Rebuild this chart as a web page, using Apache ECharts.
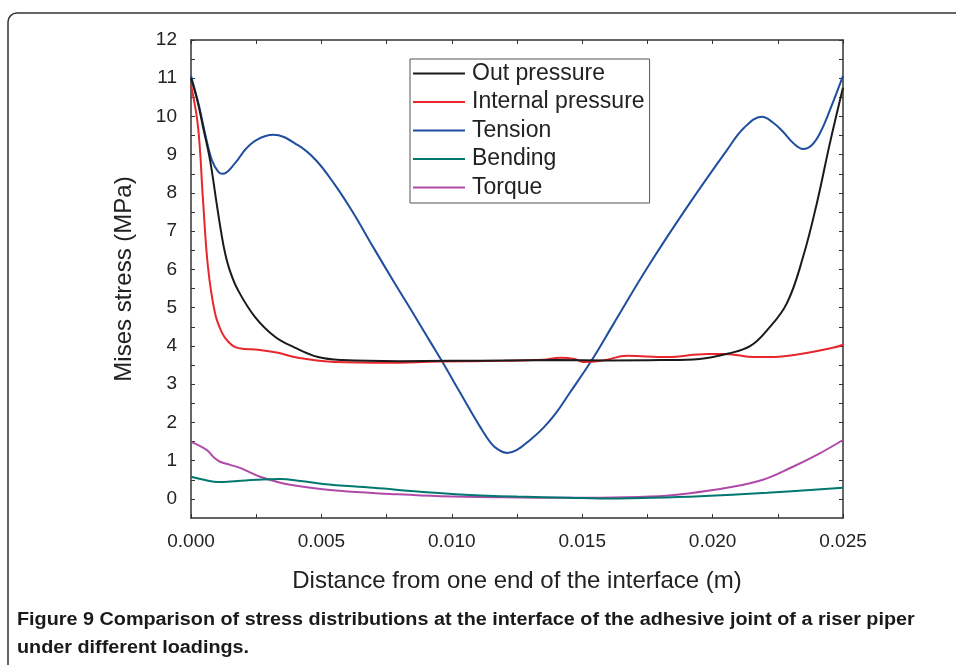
<!DOCTYPE html>
<html><head><meta charset="utf-8">
<script src="https://cdn.jsdelivr.net/npm/echarts@6/dist/echarts.min.js"></script>
<style>html,body{margin:0;padding:0;background:#fff}#c{width:956px;height:665px}</style>
</head><body><div id="c"></div>
<script>
const seriesNames = ['Out pressure', 'Internal pressure', 'Tension', 'Bending', 'Torque'];
const seriesColors = ['#1a1a1a', '#e8262b', '#1f4e9e', '#00786f', '#b04aa8'];

const outPressure = [[0,11.0],[0.00025,10.4],[0.00046,9.73],[0.00073,8.86],[0.00098,7.74],[0.00115,7.0],[0.0013,6.45],[0.0015,5.95],[0.0018,5.46],[0.00245,4.76],[0.00322,4.24],[0.004,3.95],[0.00487,3.71],[0.0058,3.63],[0.008,3.6],[0.010,3.61],[0.012,3.62],[0.014,3.63],[0.016,3.62],[0.018,3.63],[0.0195,3.66],[0.0206,3.8],[0.02145,4.0],[0.0221,4.42],[0.02285,5.12],[0.02347,6.33],[0.024,7.74],[0.0245,9.31],[0.025,10.75]];
const internalPressure = [[0,10.82],[0.00027,9.73],[0.00046,7.82],[0.00065,6.07],[0.00092,4.86],[0.00119,4.34],[0.00143,4.11],[0.00169,3.97],[0.00207,3.92],[0.00257,3.9],[0.00334,3.82],[0.0041,3.69],[0.00552,3.58],[0.0075,3.56],[0.0095,3.59],[0.012,3.61],[0.0135,3.64],[0.01415,3.69],[0.0147,3.66],[0.01503,3.58],[0.0158,3.62],[0.01672,3.74],[0.01825,3.71],[0.0198,3.79],[0.0205,3.79],[0.0216,3.71],[0.0222,3.71],[0.0233,3.78],[0.0246,3.95],[0.025,4.03]];
const tension = [[0,11.06],[0.0003,10.3],[0.00054,9.55],[0.0008,8.86],[0.00105,8.55],[0.00121,8.5],[0.00169,8.78],[0.0021,9.15],[0.00252,9.39],[0.00315,9.52],[0.0041,9.25],[0.0048,8.85],[0.00552,8.21],[0.0062,7.5],[0.00698,6.59],[0.0078,5.65],[0.00851,4.86],[0.0092,4.08],[0.00966,3.56],[0.0103,2.8],[0.01108,1.89],[0.0115,1.46],[0.0118,1.28],[0.01212,1.2],[0.0125,1.28],[0.013,1.54],[0.0135,1.85],[0.014,2.25],[0.0145,2.75],[0.01537,3.63],[0.01618,4.55],[0.01752,6.07],[0.01902,7.63],[0.02055,9.12],[0.0212,9.7],[0.02189,9.99],[0.0223,9.85],[0.0227,9.6],[0.0231,9.3],[0.02347,9.15],[0.0238,9.25],[0.02412,9.57],[0.0245,10.17],[0.025,11.06]];
const bending = [[0,0.58],[0.0005,0.5],[0.00104,0.44],[0.0018,0.47],[0.00252,0.5],[0.0034,0.52],[0.0042,0.47],[0.00506,0.39],[0.007,0.29],[0.0089,0.18],[0.0105,0.11],[0.0125,0.06],[0.0145,0.03],[0.01568,0.01],[0.0176,0.03],[0.01952,0.07],[0.02209,0.16],[0.025,0.29]];
const torque = [[0,1.49],[0.0006,1.28],[0.0009,1.07],[0.00111,0.97],[0.0015,0.89],[0.00188,0.81],[0.00265,0.58],[0.0038,0.37],[0.00571,0.21],[0.00763,0.13],[0.00955,0.07],[0.012,0.04],[0.0145,0.03],[0.01568,0.03],[0.0176,0.06],[0.01913,0.15],[0.02055,0.29],[0.02193,0.5],[0.02308,0.84],[0.024,1.15],[0.025,1.54]];

const xTickLabels = [0, 0.005, 0.01, 0.015, 0.02, 0.025];
const yTickLabels = [0,1,2,3,4,5,6,7,8,9,10,11,12];
const yMinorTicks = [0,0.5,1,1.5,2,2.5,3,3.5,4,4.5,5,5.5,6,6.5,7,7.5,8,8.5,9,9.5,10,10.5,11,11.5,12];

const xName = 'Distance from one end of the interface (m)';
const yName = 'Mises stress (MPa)';
const captionBold = 'Figure 9';
const captionLine1 = ' Comparison of stress distributions at the interface of the adhesive joint of a riser piper';
const captionLine2 = 'under different loadings.';

const allData = [outPressure, internalPressure, tension, bending, torque];
const FONT = '"Liberation Sans", Arial, Helvetica, sans-serif';
const axisColor = '#333';

const chart = echarts.init(document.getElementById('c'), null, {renderer: 'canvas'});

const xBase = {
  type: 'value', min: 0, max: 0.025, interval: 0.0025,
  axisLine: {show: true, onZero: false, lineStyle: {color: axisColor, width: 1.5}},
  axisTick: {show: true, inside: true, length: 4, lineStyle: {color: axisColor, width: 1}},
  splitLine: {show: false}
};
const yBase = {
  type: 'value', min: -0.5, max: 12,
  axisLine: {show: true, onZero: false, lineStyle: {color: axisColor, width: 1.5}},
  axisTick: {show: true, inside: true, length: 4, customValues: yMinorTicks, lineStyle: {color: axisColor, width: 1}},
  splitLine: {show: false}
};

chart.setOption({
  animation: false,
  backgroundColor: '#fff',
  textStyle: {fontFamily: FONT},
  grid: {left: 191, right: 113, top: 40, bottom: 147, containLabel: false},
  xAxis: [
    Object.assign({}, xBase, {
      position: 'bottom',
      name: xName, nameLocation: 'middle', nameGap: 51,
      nameTextStyle: {fontSize: 24, color: '#222', fontFamily: FONT},
      axisLabel: {show: true, customValues: xTickLabels, margin: 14, fontSize: 19, color: '#222', fontFamily: FONT,
        formatter: v => v.toFixed(3)}
    }),
    Object.assign({}, xBase, {position: 'top', axisLabel: {show: false}})
  ],
  yAxis: [
    Object.assign({}, yBase, {
      position: 'left',
      name: yName, nameLocation: 'middle', nameGap: 55, nameRotate: 90,
      nameTextStyle: {fontSize: 24, color: '#222', fontFamily: FONT},
      axisLabel: {show: true, customValues: yTickLabels, margin: 14, fontSize: 19, color: '#222', fontFamily: FONT}
    }),
    Object.assign({}, yBase, {position: 'right', axisLabel: {show: false}})
  ],
  legend: {
    orient: 'vertical', left: 410, top: 59,
    data: seriesNames.map(n => ({name: n, icon: 'rect'})),
    itemWidth: 52, itemHeight: 2, itemGap: 5.5,
    padding: [3, 5, 4, 3],
    borderColor: '#555', borderWidth: 1,
    backgroundColor: '#fff',
    textStyle: {fontSize: 23, color: '#222', fontFamily: FONT, lineHeight: 23, padding: [0, 0, 0, 2]}
  },
  series: seriesNames.map((n, i) => ({
    name: n, type: 'line', data: allData[i], xAxisIndex: 0, yAxisIndex: 0,
    symbol: 'none', smooth: 0.4,
    lineStyle: {color: seriesColors[i], width: 2},
    itemStyle: {color: seriesColors[i]},
    z: 5 - i
  })),
  graphic: [
    {type: 'rect', silent: true, shape: {x: 8, y: 13, width: 990, height: 720, r: 9},
      style: {fill: 'none', stroke: '#333', lineWidth: 1.5}},
    {type: 'text', silent: true, x: 17, y: 611, scaleX: 1.1,
      style: {text: '{b|' + captionBold + '}{n|' + captionLine1 + '}',
        rich: {b: {fontSize: 18, fontWeight: 'bold', fill: '#1a1a1a', fontFamily: FONT},
               n: {fontSize: 18, fontWeight: 'bold', fill: '#1a1a1a', fontFamily: FONT}}}},
    {type: 'text', silent: true, x: 17, y: 639, scaleX: 1.1,
      style: {text: captionLine2, fontSize: 18, fontWeight: 'bold', fill: '#1a1a1a', fontFamily: FONT}}
  ]
});
</script>
</body></html>
